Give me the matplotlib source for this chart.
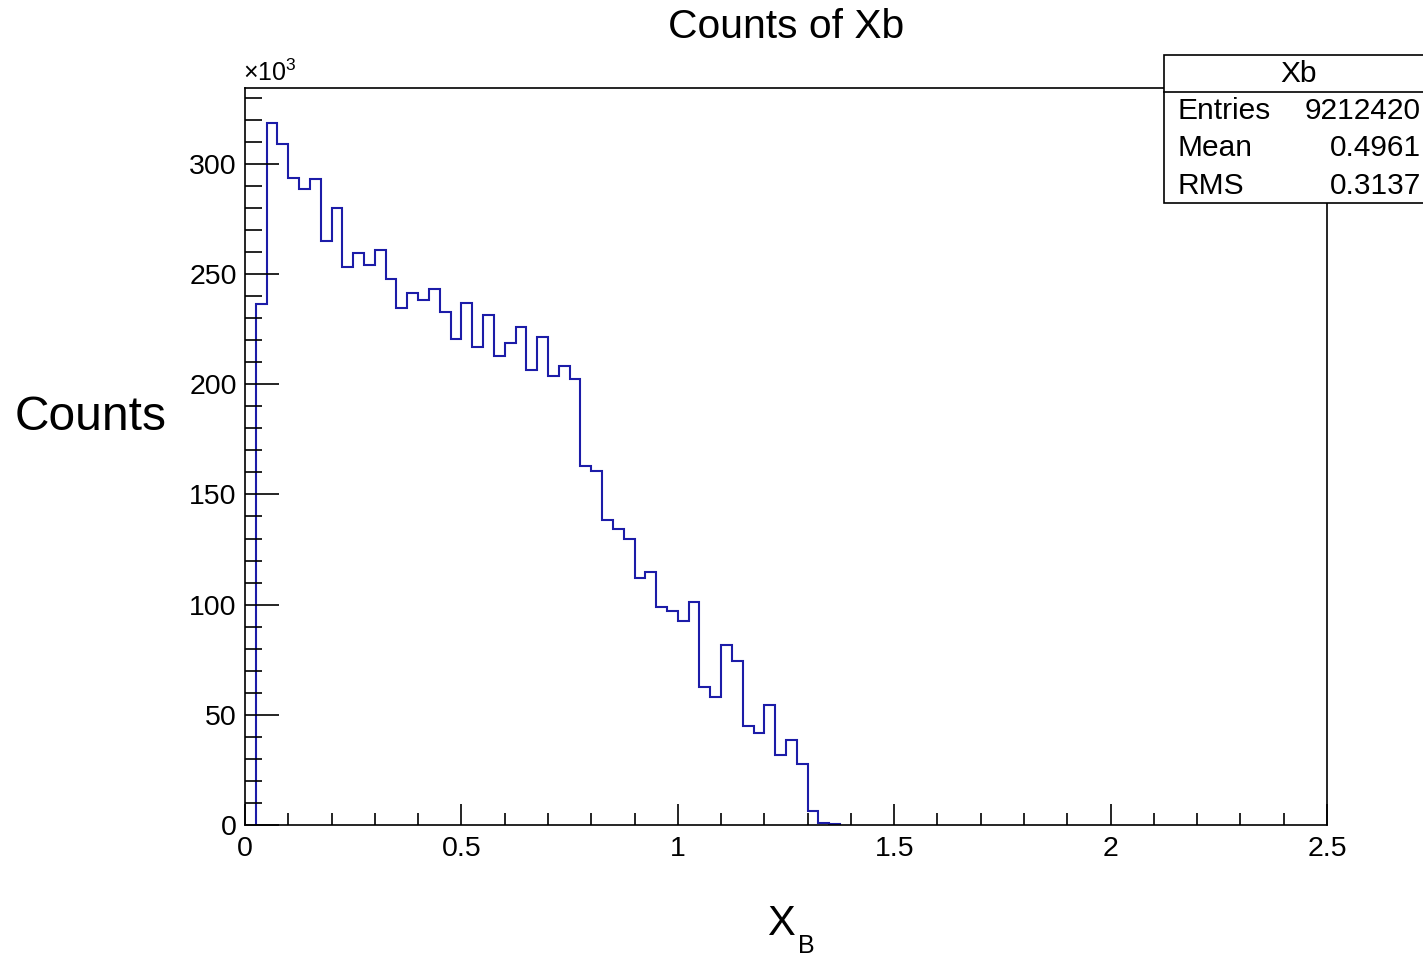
import numpy as np
import matplotlib.pyplot as plt
from matplotlib.patches import Rectangle
from matplotlib.lines import Line2D
from matplotlib.ticker import MultipleLocator, FuncFormatter

plt.rcParams['font.family'] = ['Liberation Sans', 'DejaVu Sans']
plt.rcParams['mathtext.fontset'] = 'custom'
plt.rcParams['mathtext.rm'] = 'Liberation Sans'

# Xb histogram, 100 bins on [0, 2.5], counts in thousands
x_lo, x_hi, n_bins = 0.0, 2.5, 100
counts_k = [
    0.0, 236.5, 318.5, 309.0, 293.8, 288.5, 293.1, 264.8, 279.9, 253.4,
    259.5, 254.2, 261.0, 247.8, 234.5, 241.6, 238.3, 243.4, 233.0, 220.6,
    236.8, 216.8, 231.2, 212.6, 218.9, 225.9, 206.5, 221.4, 203.8, 208.4,
    202.2, 163.1, 160.7, 138.4, 134.2, 129.8, 112.0, 115.0, 98.8, 97.3,
    92.6, 101.4, 62.5, 58.2, 81.9, 74.4, 44.9, 41.6, 54.5, 31.8,
    38.6, 27.7, 6.4, 0.7, 0.5,
] + [0.0] * 45

stats_name = 'Xb'
stats_rows = [('Entries', '9212420'), ('Mean', '0.4961'), ('RMS', '0.3137')]
title = 'Counts of Xb'

W, H = 1423, 957
fig = plt.figure(figsize=(W / 100, H / 100), dpi=100)


def fx(px):
    return px / W


def fy(py):
    return 1 - py / H


ax = fig.add_axes([fx(245), fy(825), fx(1327) - fx(245), fy(88) - fy(825)])

edges = np.linspace(x_lo, x_hi, n_bins + 1)
vals = np.array(counts_k)
nz = np.nonzero(vals)[0]
i0, i1 = nz[0], nz[-1] + 1
ax.stairs(vals[i0:i1], edges[i0:i1 + 1], baseline=0, color='#1c1ca8', lw=1.5, zorder=1)

ax.set_xlim(x_lo, x_hi)
ax.set_ylim(0, 1.05 * vals.max())

ax.xaxis.set_major_locator(MultipleLocator(0.5))
ax.xaxis.set_minor_locator(MultipleLocator(0.1))
ax.yaxis.set_major_locator(MultipleLocator(50))
ax.yaxis.set_minor_locator(MultipleLocator(10))
ax.xaxis.set_major_formatter(FuncFormatter(lambda v, p: '%g' % v))
ax.yaxis.set_major_formatter(FuncFormatter(lambda v, p: '%g' % v))

for s in ax.spines.values():
    s.set_linewidth(1.2)
ax.tick_params(which='both', direction='in', top=False, right=False, width=1.2, colors='black')
ax.tick_params(which='major', labelsize=20.5)
ax.tick_params(axis='y', which='major', length=24.5, pad=6)
ax.tick_params(axis='y', which='minor', length=12.2)
ax.tick_params(axis='x', which='major', length=15, pad=8)
ax.tick_params(axis='x', which='minor', length=8.6)

# exponent marker for the y axis
fig.text(fx(243), fy(73), '×10$^{3}$', fontsize=18, ha='left', va='center')

fig.text(fx(786), fy(27), title, fontsize=29.3, ha='center', va='center')
fig.text(fx(91), fy(417), 'Counts', fontsize=34.5, ha='center', va='center')
fig.text(fx(781), fy(935), 'X', fontsize=30, ha='center', va='baseline')
fig.text(fx(806), fy(953), 'B', fontsize=18, ha='center', va='baseline')

# statistics box
box = Rectangle((fx(1164), fy(203)), fx(1440) - fx(1164), fy(55) - fy(203),
                transform=fig.transFigure, facecolor='white', edgecolor='black',
                lw=1.2, zorder=5, clip_on=False)
fig.add_artist(box)
fig.add_artist(Line2D([fx(1164), fx(1440)], [fy(92), fy(92)],
                      transform=fig.transFigure, color='black', lw=1.2, zorder=6))
fig.text(fx(1299), fy(74), stats_name, fontsize=21.5, ha='center', va='center', zorder=7)
for k, (lab, val) in enumerate(stats_rows):
    yy = fy(111 + 37.5 * k)
    fig.text(fx(1178), yy, lab, fontsize=21.5, ha='left', va='center', zorder=7)
    fig.text(fx(1421), yy, val, fontsize=21.5, ha='right', va='center', zorder=7)

fig.savefig('out.png', dpi=100, facecolor='white')
